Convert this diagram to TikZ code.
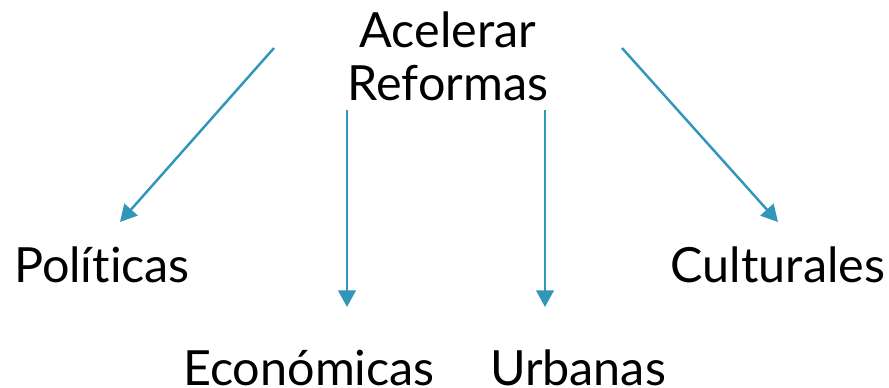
\documentclass[tikz,border=0pt]{standalone}
\usepackage{fontspec}
\setmainfont[Ligatures={NoCommon}]{Lato}
\usetikzlibrary{arrows.meta}
\definecolor{flecha}{RGB}{50,150,187}

\begin{document}
\begin{tikzpicture}[x=0.02cm, y=-0.02cm,
    etiqueta/.style={anchor=base, inner sep=0pt, font=\fontsize{27.6}{30}\selectfont},
    conector/.style={draw=flecha, line width=1.4pt, -{Triangle[width=10pt, length=9.5pt]}}]
                            \useasboundingbox (0, 0) rectangle (889, 387);

                            \node (R)[etiqueta, align=center] at (448, 100) {Acelerar\\Reformas};
                            \node (P)[etiqueta] at (102, 282) {Políticas};
                            \node (C)[etiqueta] at (778, 282) {Culturales};
                            \node (E)[etiqueta] at (309, 385) {Económicas};
                            \node (U)[etiqueta] at (578, 385) {Urbanas};

                            \coordinate (r1) at (274, 48);
                            \coordinate (r2) at (347, 110);
                            \coordinate (r3) at (545, 110);
                            \coordinate (r4) at (622, 48);
                            \coordinate (p1) at (120, 222);
                            \coordinate (e1) at (347, 307);
                            \coordinate (u1) at (545, 307);
                            \coordinate (c1) at (778, 222);

                            \draw[conector] (r1) -- (p1);
                            \draw[conector] (r2) -- (e1);
                            \draw[conector] (r3) -- (u1);
                            \draw[conector] (r4) -- (c1);

                        \end{tikzpicture}
\end{document}
